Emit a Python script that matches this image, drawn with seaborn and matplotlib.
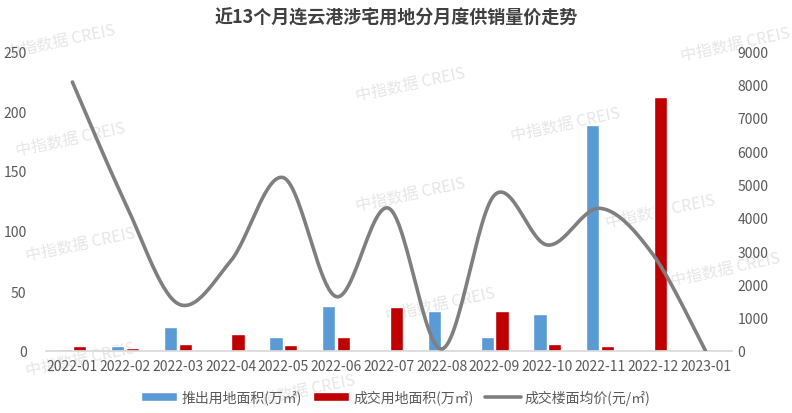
import numpy as np
import pandas as pd
import matplotlib
matplotlib.use("Agg")
import matplotlib.pyplot as plt
import seaborn as sns
from matplotlib.patches import Patch
from matplotlib.lines import Line2D

months = ["2022-01", "2022-02", "2022-03", "2022-04", "2022-05", "2022-06", "2022-07",
          "2022-08", "2022-09", "2022-10", "2022-11", "2022-12", "2023-01"]
supply_area = [2, 4, 20, 0, 11.5, 37.5, 0, 33, 12, 31, 188, 0, 0]
deal_area = [4, 2.5, 6, 14, 5, 11.5, 37, 0, 33, 6, 4, 212, 0]
avg_price = [8070, 4450, 1420, 2700, 5200, 1630, 4280, 60, 4680, 3180, 4280, 2900, 0]

name_supply = "推出用地面积(万㎡)"
name_deal = "成交用地面积(万㎡)"
name_price = "成交楼面均价(元/㎡)"
title = "近13个月连云港涉宅用地分月度供销量价走势"

sns.set_theme(style="white")
plt.rcParams['font.family'] = ['Noto Sans CJK SC', 'DejaVu Sans']

df = pd.DataFrame({
    "month": months * 2,
    "value": supply_area + deal_area,
    "series": [name_supply] * len(months) + [name_deal] * len(months),
})

fig = plt.figure(figsize=(7.92, 4.14), dpi=100)
ax = fig.add_axes([46 / 792, 1 - 352 / 414, (732 - 46) / 792, 300 / 414])
ax.patch.set_alpha(0)

blue = "#5B9BD5"
red = "#C00000"
gray = "#7F7F7F"
txt = "#595959"

sns.barplot(data=df, x="month", y="value", hue="series", order=months,
            hue_order=[name_supply, name_deal], palette=[blue, red],
            width=0.56, gap=0.1, ax=ax, legend=False, saturation=1)

ax.set_xlim(-0.5, len(months) - 0.5)
ax.set_ylim(0, 250)
ax.set_yticks(np.arange(0, 251, 50))
ax.set_xlabel("")
ax.set_ylabel("")
for s in ["top", "right", "left"]:
    ax.spines[s].set_visible(False)
ax.spines["bottom"].set_color("#D9D9D9")
ax.tick_params(axis="y", length=0, labelsize=10, labelcolor=txt, pad=14)
ax.tick_params(axis="x", length=0, labelsize=10, labelcolor=txt, pad=6)
ax.set_xticks(np.arange(-0.5, len(months), 1), minor=True)
ax.tick_params(axis="x", which="minor", length=5, color="#D9D9D9", width=1)

# Smoothed line (Catmull-Rom like Excel smoothing)
ax2 = ax.twinx()
x = np.arange(len(months), dtype=float)
y = np.array(avg_price, dtype=float)
xs, ys = [], []
n = len(x)
for i in range(n - 1):
    p0 = np.array([x[max(i - 1, 0)], y[max(i - 1, 0)]])
    p1 = np.array([x[i], y[i]])
    p2 = np.array([x[i + 1], y[i + 1]])
    p3 = np.array([x[min(i + 2, n - 1)], y[min(i + 2, n - 1)]])
    c1 = p1 + (p2 - p0) / 6
    c2 = p2 - (p3 - p1) / 6
    t = np.linspace(0, 1, 30)[:, None]
    pts = (1 - t) ** 3 * p1 + 3 * (1 - t) ** 2 * t * c1 + 3 * (1 - t) * t ** 2 * c2 + t ** 3 * p2
    xs.extend(pts[:, 0])
    ys.extend(pts[:, 1])
sns.lineplot(x=xs, y=ys, ax=ax2, color=gray, linewidth=2.6, sort=False, estimator=None)
ax2.set_ylim(0, 9000)
ax2.set_yticks(np.arange(0, 9001, 1000))
for s in ["top", "right", "left", "bottom"]:
    ax2.spines[s].set_visible(False)
ax2.tick_params(axis="y", length=0, labelsize=10, labelcolor=txt, pad=4)
ax2.set_ylabel("")
ax2.grid(False)
ax.grid(False)

fig.text(0.5, 1 - 18 / 414, title, ha="center", va="center", fontsize=13,
         fontweight="bold", color="#404040")

handles = [Patch(facecolor=blue, label=name_supply),
           Patch(facecolor=red, label=name_deal),
           Line2D([0], [0], color=gray, lw=2.6, label=name_price)]
fig.legend(handles=handles, loc="center", bbox_to_anchor=(0.5, 1 - 398 / 414), ncol=3,
           frameon=False, fontsize=10, handlelength=2.6, handleheight=0.6,
           columnspacing=0.8, handletextpad=0.3, labelcolor=txt)

# watermarks
wm = "中指数据 CREIS"
for (px, py) in [(60, 42), (410, 85), (735, 45), (70, 140), (565, 125), (410, 195),
                 (80, 245), (660, 212), (440, 305), (80, 360), (725, 270), (300, 392)]:
    fig.text(px / 792, 1 - py / 414, wm, ha="center", va="center", fontsize=11.5,
             color="#E6E6E6", rotation=12, zorder=-1)

fig.savefig("out.png", dpi=100)
